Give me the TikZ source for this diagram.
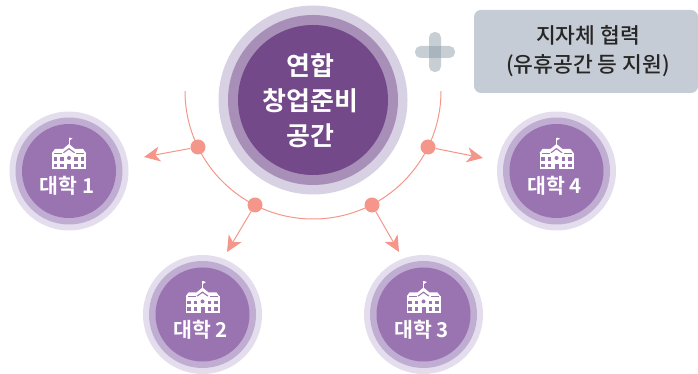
\documentclass[tikz,border=0pt]{standalone}
\usepackage{fontspec}
\usetikzlibrary{arrows.meta}
\newfontfamily\krbold{Noto Sans CJK KR Bold}
\newfontfamily\krreg{Noto Sans CJK KR Medium}
\definecolor{salmon}{HTML}{F4978A}
\definecolor{bigA}{HTML}{D8D0E3}
\definecolor{bigB}{HTML}{A88FB8}
\definecolor{bigC}{HTML}{73498A}
\definecolor{smA}{HTML}{E4DDED}
\definecolor{smB}{HTML}{C0ADD2}
\definecolor{smC}{HTML}{9A73B1}
\definecolor{boxgray}{HTML}{C6CCD5}
\definecolor{plusgray}{HTML}{C8CFD4}
\definecolor{plusdark}{HTML}{A9B5BE}
\tikzset{
  x=1pt,y=1pt,
  ring/.style={circle,inner sep=0pt,minimum size=#1},
  dotnode/.style={circle,fill=salmon,inner sep=0pt,minimum size=15pt},
  link/.style={draw=salmon,line width=1pt},
  arrowlink/.style={link,-{Stealth[length=16pt,width=15pt,inset=4.5pt]}},
  school/.pic={
    \fill[white] (-17,15) rectangle (17,-1.5);
    \fill[white] (-17,15) -- (-14,19) -- (-6,19) -- (0,24) -- (6,19) -- (14,19) -- (17,15) -- cycle;
    \fill[white] (-0.35,23) rectangle (0.35,30);
    \fill[white] (0.35,30.5) -- (3.5,29.5) -- (0.35,27.5) -- cycle;
    \foreach \yy in {2.5,9}
      \foreach \xx in {-13.5,-7,7,13.5}
        \fill[smC] (\xx-1.8,\yy-1.6) rectangle (\xx+1.8,\yy+1.6);
    \fill[smC] (-2,-1.5) rectangle (2,4);
    \fill[smC] (0,10) circle (2);
    \fill[smC] (-6,15.6) -- (0,20) -- (6,15.6) -- (5,15) -- (0,18.6) -- (-5,15) -- cycle;
    \fill[smC] (-15,15.4) rectangle (-7,14.6);
    \fill[smC] (7,15.4) rectangle (15,14.6);
  },
  unilabel/.style={text=white,font=\krbold\fontsize{20.5}{24}\selectfont,inner sep=0pt}
}
\newcommand{\uni}[3]{%
  \node[ring=119pt,fill=smA] (#1a) at (#2) {};
  \node[ring=107pt,fill=smB] (#1b) at (#2) {};
  \node[ring=94pt,fill=smC] (#1c) at (#2) {};
  \pic at ([yshift=3pt]#1c.center) {school};
  \node[unilabel] (#1t) at ([xshift=-2pt,yshift=-15pt]#1c.center) {#3};
}
\begin{document}
\begin{tikzpicture}
\useasboundingbox (0,0) rectangle (698,374);
% arc
\coordinate (arcL) at (185,283);
\draw[link] (arcL) arc[start angle=180,end angle=360,radius=128];
% main circle
\node[ring=189pt,fill=bigA] (mainA) at (313,274) {};
\node[ring=170pt,fill=bigB] (mainB) at (313,274) {};
\node[ring=150pt,fill=bigC] (main) at (313,274) {};
\node[text=white,align=center,inner sep=0pt,font=\krbold\fontsize{26}{35}\selectfont] (mainT) at (310.5,273.5) {연합\\창업준비\\공간};
% connectors
\node[dotnode] (d1) at (198,227) {};
\node[dotnode] (d2) at (255,169) {};
\node[dotnode] (d3) at (372,169) {};
\node[dotnode] (d4) at (428,227) {};
\coordinate (t1) at (144,217);
\coordinate (t2) at (227,122);
\coordinate (t3) at (399,122);
\coordinate (t4) at (483,216);
\draw[arrowlink] (d1) -- (t1);
\draw[arrowlink] (d2) -- (t2);
\draw[arrowlink] (d3) -- (t3);
\draw[arrowlink] (d4) -- (t4);
% universities
\uni{u1}{69,203}{대학 1}
\uni{u2}{202.5,59.5}{대학 2}
\uni{u3}{423.5,59.5}{대학 3}
\uni{u4}{556.5,203}{대학 4}
% plus
\fill[plusgray,rounded corners=5.5pt] (415,316) rectangle (455,328);
\fill[plusgray,rounded corners=5.5pt] (429,302) rectangle (441,342);
\fill[plusdark] (429,316) rectangle (441,328);
% box
\node[fill=boxgray,rounded corners=7pt,minimum width=224pt,minimum height=83pt,inner sep=0pt] (box) at (586,322.5) {};
\node[inner sep=0pt,align=center,text=black!85,font=\krreg\fontsize{21.5}{29}\selectfont] (boxT) at (588,322.5) {지자체 협력\\(유휴공간 등 지원)};
\end{tikzpicture}
\end{document}
